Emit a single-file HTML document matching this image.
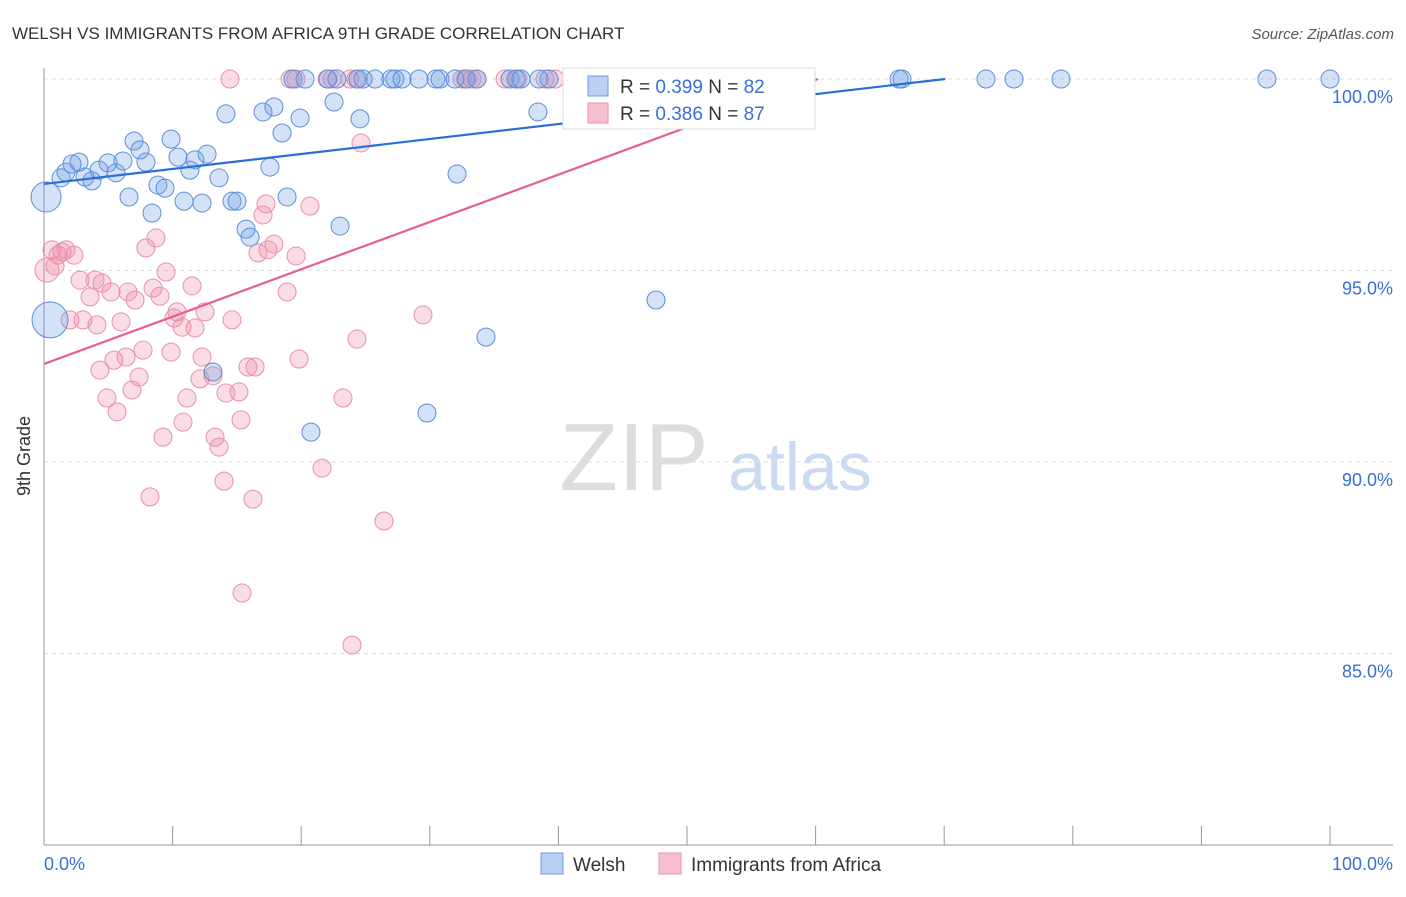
<!DOCTYPE html>
<html><head><meta charset="utf-8"><style>
body{margin:0;background:#fff;font-family:"Liberation Sans",sans-serif}
svg text{font-family:"Liberation Sans",sans-serif}
</style></head><body>
<svg id="chart" width="1406" height="892" xmlns="http://www.w3.org/2000/svg">
<text x="12" y="39" font-size="17" fill="#333">WELSH VS IMMIGRANTS FROM AFRICA 9TH GRADE CORRELATION CHART</text>
<text x="1394" y="39" font-size="15" fill="#555" text-anchor="end" font-style="italic">Source: ZipAtlas.com</text>
<text x="30" y="456" font-size="18" fill="#333" text-anchor="middle" transform="rotate(-90 30 456)">9th Grade</text>
<g>
<text x="634" y="490" font-size="96" fill="#ddd" text-anchor="middle" font-family="Liberation Serif">ZIP</text>
<text x="800" y="490" font-size="68" fill="#c9daf2" text-anchor="middle">atlas</text>
</g>
<g id="grid"></g>
<g id="axes"></g>
<g id="pts"></g>
<g id="lines"></g>
<g>
<rect x="563" y="68" width="252" height="61" fill="#fff" stroke="#ddd"/>
<rect x="588" y="76" width="20" height="20" fill="#b9d0f2" stroke="#6b9be0"/>
<text x="620" y="93" font-size="19" fill="#333">R = <tspan fill="#3a6fd8">0.399</tspan>   N = <tspan fill="#3a6fd8">82</tspan></text>
<rect x="588" y="103" width="20" height="20" fill="#f6c0d1" stroke="#e890aa"/>
<text x="620" y="120" font-size="19" fill="#333">R = <tspan fill="#3a6fd8">0.386</tspan>   N = <tspan fill="#3a6fd8">87</tspan></text>
</g>
<g>
<rect x="541" y="853" width="22" height="21" fill="#b9d0f2" stroke="#6b9be0"/>
<text x="573" y="871" font-size="19" fill="#333">Welsh</text>
<rect x="659" y="853" width="22" height="21" fill="#f6c0d1" stroke="#e890aa"/>
<text x="691" y="871" font-size="19" fill="#333">Immigrants from Africa</text>
</g>
</svg>
<script>
const yTicks=[100,95,90,85];
const yTickLabels=["100.0%","95.0%","90.0%","85.0%"];
const xTickVals=[0,10,20,30,40,50,60,70,80,90,100];
const welshX=[0.16,0.47,1.32,1.71,2.18,2.72,3.19,3.73,4.28,4.98,5.6,6.14,6.61,7.0,7.47,7.93,8.4,8.86,9.41,9.88,10.42,10.89,11.35,11.74,12.29,12.68,13.61,14.15,14.62,15.01,15.71,16.02,17.03,17.57,17.88,18.51,18.9,19.91,20.76,22.55,23.02,24.57,29.78,32.12,34.37,38.41,47.59,13.14,
19.36,20.3,22.08,22.78,24.42,24.81,25.74,26.98,27.29,27.84,29.16,30.48,30.79,31.96,32.81,33.67,36.24,36.7,37.09,38.49,39.27,41.29,54.43,66.49,66.72,73.25,75.43,79.08,95.1,100];
const welshY=[96.92,93.71,97.42,97.57,97.78,97.83,97.44,97.34,97.62,97.81,97.55,97.86,96.92,98.38,98.15,97.83,96.5,97.23,97.15,98.43,97.96,96.81,97.62,97.89,96.76,98.04,97.42,99.09,96.81,96.81,96.08,95.87,99.14,97.7,99.27,98.59,96.92,98.98,90.78,99.4,96.16,98.96,91.28,97.52,93.26,99.14,94.23,92.35,
100,100,100,100,100,100,100,100,100,100,100,100,100,100,100,100,100,100,100,100,100,100,100,100,100,100,100,100,100,100];
const africaX=[0.23,0.62,0.86,1.09,1.4,1.71,2.02,2.33,2.8,3.03,3.58,3.97,4.12,4.51,4.35,4.9,5.21,5.44,5.68,5.99,6.38,6.53,6.84,7.08,7.39,7.7,7.93,8.24,8.48,8.71,9.02,9.25,9.49,9.88,10.11,10.34,10.73,10.81,11.12,11.51,11.74,12.13,12.29,12.52,13.14,13.3,13.61,14.0,14.15,14.62,15.16,15.32,15.4,15.86,16.25,16.41,16.64,17.03,17.26,17.42,17.88,18.9,19.6,19.83,20.68,21.62,23.25,23.95,24.34,24.65,26.44,29.47,
14.46,19.13,19.6,22.01,22.4,23.79,24.26,32.5,32.89,33.28,33.67,35.85,36.86,38.96,39.74,54.43];
const africaY=[95.01,95.54,95.12,95.4,95.48,95.54,93.71,95.4,94.75,93.71,94.31,94.75,93.58,94.67,92.4,91.67,94.44,92.66,91.31,93.66,92.74,94.44,91.88,94.23,92.22,92.92,95.59,89.09,94.54,95.85,94.33,90.65,94.96,92.87,93.76,93.92,93.52,91.04,91.67,94.6,93.5,92.17,92.74,93.92,92.25,90.65,90.39,89.5,91.8,93.71,91.83,91.1,86.58,92.48,89.03,92.48,95.46,96.45,96.74,95.54,95.69,94.44,95.38,92.69,96.68,89.84,91.67,85.22,93.21,98.33,88.46,93.84,
100,100,100,100,100,100,100,100,100,100,100,100,100,100,100,100];
const welshBig=[15,18];
const trendWelsh=[97.26,0.0391];
const trendAfrica=[92.56,0.1236];
const NS="http://www.w3.org/2000/svg";
const X=v=>44+v*12.86, Y=v=>79+(100-v)*38.3;
function mk(t,a,p){const e=document.createElementNS(NS,t);for(const k in a)e.setAttribute(k,a[k]);p.appendChild(e);return e;}
const grid=document.getElementById('grid'),axes=document.getElementById('axes'),pts=document.getElementById('pts'),lines=document.getElementById('lines');
yTicks.forEach((t,i)=>{
 const l=mk('line',{x1:44,x2:1393,y1:Y(t),y2:Y(t),stroke:'#ddd','stroke-dasharray':'4,4'},grid);
 
 
 const tx=mk('text',{x:1393,y:Y(t)+24,'font-size':18,fill:'#3a6fd8','text-anchor':'end'},axes);
 tx.textContent=yTickLabels[i];
 
 
});
mk('line',{x1:44,x2:44,y1:68,y2:845,stroke:'#999'},axes);
mk('line',{x1:44,x2:1393,y1:845,y2:845,stroke:'#999'},axes);
xTickVals.forEach(v=>{
 const t=mk('line',{x1:X(v),x2:X(v),y1:826,y2:845,stroke:'#999'},axes);
 
 
});
const x0=mk('text',{x:44,y:870,'font-size':18,fill:'#3a6fd8'},axes);x0.textContent='0.0%';


const x1=mk('text',{x:1393,y:870,'font-size':18,fill:'#3a6fd8','text-anchor':'end'},axes);x1.textContent='100.0%';


africaX.forEach((v,i)=>{
 const c=mk('circle',{cx:X(v),cy:Y(africaY[i]),r:i==0?12:9,fill:'rgba(240,140,170,0.3)',stroke:'#e890aa','stroke-width':1},pts);
 
 
});
welshX.forEach((v,i)=>{
 const c=mk('circle',{cx:X(v),cy:Y(welshY[i]),r:i<2?welshBig[i]:9,fill:'rgba(110,160,230,0.3)',stroke:'#5b8fd9','stroke-width':1},pts);
 
 
});
function trend(tr,col,name){
 const xe=Math.min(100,(100-tr[0])/tr[1]);
 const l=mk('line',{x1:X(0),y1:Y(tr[0]),x2:X(xe),y2:Y(tr[0]+tr[1]*xe),stroke:col,'stroke-width':2.2},lines);
 
 
}
trend(trendWelsh,'#2a6fd6','welsh-trendline');
trend(trendAfrica,'#e8608a','africa-trendline');
</script>
</body></html>
